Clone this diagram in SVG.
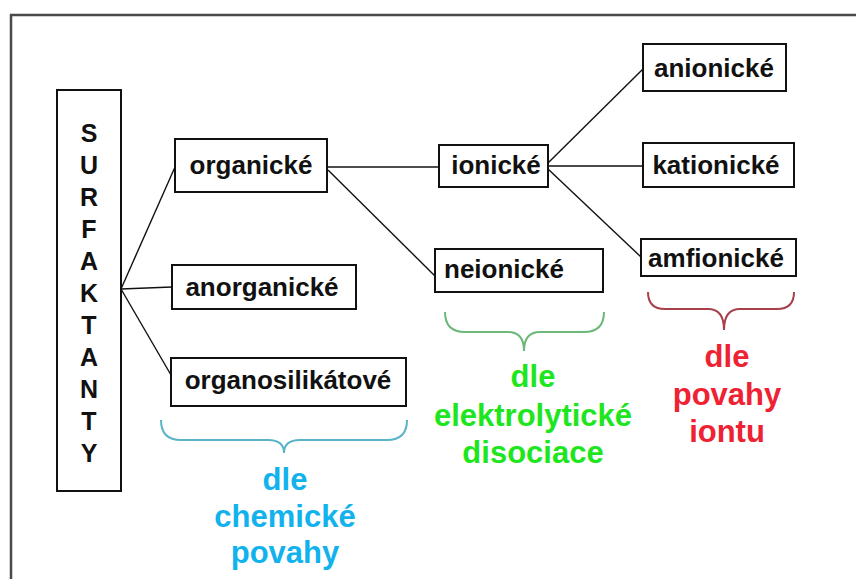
<svg xmlns="http://www.w3.org/2000/svg" width="856" height="579" viewBox="0 0 856 579">
<style>
.frame{fill:none;stroke:#4a4a4a;stroke-width:2.5}
.box{fill:#fff;stroke:#111;stroke-width:2}
.t{font-family:"Liberation Sans",Arial,sans-serif;font-weight:bold;font-size:26px;fill:#111;text-anchor:middle}
.v{font-family:"Liberation Sans",Arial,sans-serif;font-weight:bold;font-size:25px;fill:#111;text-anchor:middle}
.lab{font-family:"Liberation Sans",Arial,sans-serif;font-weight:bold;font-size:31px;text-anchor:middle}
.conn line{stroke:#111;stroke-width:1.4}
.brace{fill:none;stroke-width:2}
</style>
<rect width="856" height="579" fill="#fff"/>
<rect class="frame" x="11" y="15" width="870" height="600"/>
<g id="connectors" class="conn">
<line x1="121" y1="289" x2="175" y2="167"/>
<line x1="121" y1="289" x2="172" y2="287"/>
<line x1="121" y1="289" x2="171" y2="375"/>
<line x1="327" y1="167" x2="439" y2="167"/>
<line x1="328" y1="170" x2="435" y2="276"/>
<line x1="548" y1="163" x2="643" y2="69"/>
<line x1="548" y1="166" x2="643" y2="166"/>
<line x1="548" y1="169" x2="641" y2="257"/>
</g>
<g id="surfaktanty">
<rect class="box" x="57" y="90" width="64" height="401"/>
<text class="v" x="89" y="142">S</text>
<text class="v" x="89" y="174">U</text>
<text class="v" x="89" y="206">R</text>
<text class="v" x="89" y="238">F</text>
<text class="v" x="89" y="270">A</text>
<text class="v" x="89" y="302">K</text>
<text class="v" x="89" y="334">T</text>
<text class="v" x="89" y="366">A</text>
<text class="v" x="89" y="398">N</text>
<text class="v" x="89" y="430">T</text>
<text class="v" x="89" y="462">Y</text>
</g>
<g id="organicke">
<rect class="box" x="175" y="139" width="152" height="53"/>
<text class="t" x="251" y="174">organické</text>
</g>
<g id="anorganicke">
<rect class="box" x="172" y="265" width="184" height="44"/>
<text class="t" x="262" y="296">anorganické</text>
</g>
<g id="organosilikatove">
<rect class="box" x="171" y="358" width="235" height="48"/>
<text class="t" x="288" y="389">organosilikátové</text>
</g>
<g id="ionicke">
<rect class="box" x="439" y="145" width="109" height="42"/>
<text class="t" x="496" y="174">ionické</text>
</g>
<g id="neionicke">
<rect class="box" x="435" y="249" width="168" height="43"/>
<text class="t" x="504" y="278">neionické</text>
</g>
<g id="anionicke">
<rect class="box" x="643" y="44" width="143" height="47"/>
<text class="t" x="714" y="77">anionické</text>
</g>
<g id="kationicke">
<rect class="box" x="643" y="143" width="151" height="44"/>
<text class="t" x="716" y="174">kationické</text>
</g>
<g id="amfionicke">
<rect class="box" x="641" y="239" width="155" height="37"/>
<text class="t" x="716" y="267">amfionické</text>
</g>
<g id="chemicke">
<path class="brace" stroke="#5ab4c8" d="M161,420 Q161,440 181,440 L268,440 Q284,440 284,453 Q284,440 300,440 L387,440 Q407,440 407,420"/>
<text class="lab" fill="#12b2ec" x="285" y="490">dle</text>
<text class="lab" fill="#12b2ec" x="285" y="527">chemické</text>
<text class="lab" fill="#12b2ec" x="285" y="563">povahy</text>
</g>
<g id="elektrolyticke">
<path class="brace" stroke="#6cb878" d="M445,312 Q445,332 465,332 L508,332 Q524,332 524,351 Q524,332 540,332 L584,332 Q604,332 604,312"/>
<text class="lab" fill="#1ee61e" x="533" y="387">dle</text>
<text class="lab" fill="#1ee61e" x="533" y="426">elektrolytické</text>
<text class="lab" fill="#1ee61e" x="533" y="463">disociace</text>
</g>
<g id="iontu">
<path class="brace" stroke="#a8404c" d="M648,292 Q648,309 665,309 L708,309 Q724,309 724,330 Q724,309 740,309 L777,309 Q794,309 794,292"/>
<text class="lab" fill="#ee2233" x="727" y="367">dle</text>
<text class="lab" fill="#ee2233" x="727" y="405">povahy</text>
<text class="lab" fill="#ee2233" x="727" y="442">iontu</text>
</g>
</svg>
